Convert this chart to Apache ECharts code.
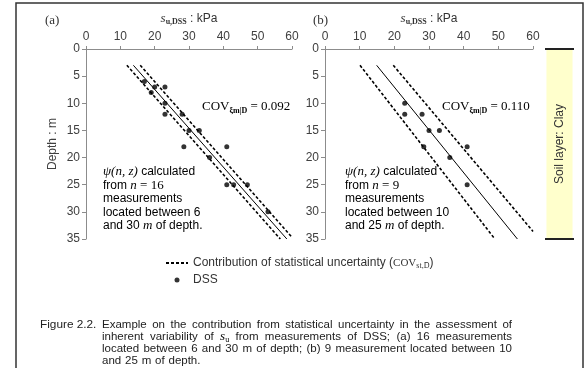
<!DOCTYPE html>
<html>
<head>
<meta charset="utf-8">
<script src="https://cdn.jsdelivr.net/npm/echarts@6/dist/echarts.min.js"></script>
<style>
html, body { margin: 0; padding: 0; background: #fff; }
#chart { width: 586px; height: 368px; }
</style>
</head>
<body>
<div id="chart"></div>
<script>
// DSS measurements, [s_u kPa, depth m]
const dssA = [[17, 6], [20, 7], [23, 7], [19, 8], [23, 10], [23, 12], [28, 12], [30, 15], [33, 15],
	[28.5, 18], [41, 18], [36, 20], [41, 25], [43, 25], [47, 25], [53, 30]];
const dssB = [[23, 10], [23, 12], [28, 12], [30, 15], [33, 15], [28.5, 18], [41, 18], [36, 20], [41, 25]];

// trend line and statistical-uncertainty bounds (end points)
const meanA = [[13.8, 3], [58.5, 35]];
const lowA = [[11.9, 3], [56.6, 35]];
const highA = [[15.8, 3], [60, 34.7]];
const meanB = [[14.9, 3], [55.5, 35]];
const lowB = [[10.1, 3], [49, 35]];
const highB = [[19.7, 3], [60, 33.6]];

const suRange = [0, 60, 10];
const depthRange = [0, 35, 5];
const soilLayers = [{ name: 'Clay', top: 0, bottom: 35 }];
const covValues = ['0.092', '0.110'];
const nMeasurements = [16, 9];
const depthSpans = [[6, 30], [10, 25]];

const BOUND = 'Contribution of statistical uncertainty';
const sans = '"Liberation Sans", Arial, sans-serif';
const serif = '"Liberation Serif", "Times New Roman", serif';
const ink = '#333';

const axisNameRich = {
	s: { fontFamily: serif, fontStyle: 'italic', fontSize: 13, color: ink },
	u: { fontFamily: serif, fontWeight: 'bold', fontSize: 8, color: ink, verticalAlign: 'bottom', padding: [6, 0, 0, 0] },
	k: { fontFamily: sans, fontSize: 12, color: ink },
};

function xAxisFor(i) {
	return {
		gridIndex: i, type: 'value', position: 'top',
		min: suRange[0], max: suRange[1], interval: suRange[2],
		name: '{s|s}{u|u,DSS}{k| : kPa}', nameLocation: 'middle', nameGap: 23,
		nameTextStyle: { rich: axisNameRich },
		axisLine: { show: true, lineStyle: { color: '#8c8c8c' } },
		axisTick: { show: true, length: 3, lineStyle: { color: '#8c8c8c' } },
		axisLabel: { color: '#404040', fontSize: 12, fontFamily: sans, margin: 6 },
		splitLine: { show: false },
	};
}

function yAxisFor(i, name) {
	return {
		gridIndex: i, type: 'value', inverse: true,
		min: depthRange[0], max: depthRange[1], interval: depthRange[2],
		name: name, nameLocation: 'middle', nameGap: 27,
		nameTextStyle: { color: '#404040', fontSize: 12, fontFamily: sans },
		axisLine: { show: true, lineStyle: { color: '#8c8c8c' } },
		axisTick: { show: true, length: 4, lineStyle: { color: '#8c8c8c' } },
		axisLabel: { color: '#404040', fontSize: 12, fontFamily: sans, margin: 6 },
		splitLine: { show: false },
	};
}

function boundSeries(i, data) {
	return {
		name: BOUND, type: 'line', xAxisIndex: i, yAxisIndex: i, data: data,
		symbol: 'none', silent: true,
		itemStyle: { color: '#000' },
		lineStyle: { color: '#000', width: 1.6, type: [3, 2] },
	};
}

function panelSeries(i, dss, mean, low, high) {
	return [
		boundSeries(i, low),
		boundSeries(i, high),
		{
			name: 'trend', type: 'line', xAxisIndex: i, yAxisIndex: i, data: mean,
			symbol: 'none', silent: true, lineStyle: { color: '#000', width: 1 },
		},
		{
			name: 'DSS', type: 'scatter', xAxisIndex: i, yAxisIndex: i, data: dss,
			symbolSize: 5, itemStyle: { color: '#000' },
		},
	];
}

// annotation blocks inside each panel
const richNote = {
	i: { fontFamily: serif, fontStyle: 'italic', fontSize: 13, color: ink },
	t: { fontFamily: sans, fontSize: 12, color: ink },
	c: { fontFamily: serif, fontSize: 13, color: ink },
	b: { fontFamily: serif, fontWeight: 'bold', fontSize: 8, color: ink, verticalAlign: 'bottom', padding: [7, 0, 0, 0] },
};

function noteBlock(x, i) {
	const lines = [
		'{i|ψ(n, z)}{t| calculated}',
		'{t|from }{i|n}{c| = ' + nMeasurements[i] + '}',
		'{t|measurements}',
		'{t|located between ' + depthSpans[i][0] + '}',
		'{t|and ' + depthSpans[i][1] + ' }{i|m}{t| of depth.}',
	];
	return lines.map((txt, k) => ({
		type: 'text', x: x, y: 172 + k * 13.5,
		style: { text: txt, rich: richNote, verticalAlign: 'middle' },
	}));
}

function covText(x, i) {
	return {
		type: 'text', x: x, y: 107,
		style: {
			text: '{c|COV}{b|ξm|D}{c| = ' + covValues[i] + '}',
			rich: richNote, verticalAlign: 'middle',
		},
	};
}

// justified figure caption
const capFont = '11.5px ' + sans;
const measureCtx = document.createElement('canvas').getContext('2d');
function textWidth(str, font) {
	measureCtx.font = font;
	return measureCtx.measureText(str).width;
}
const SU = '\u0000su';
function wordWidth(w) {
	if (w === SU) return textWidth('s', 'italic 13px ' + serif) + textWidth('u', '8px ' + serif);
	return textWidth(w, capFont);
}
function captionLine(words, x0, x1, y, justify) {
	const widths = words.map(wordWidth);
	const total = widths.reduce((a, b) => a + b, 0);
	const gap = justify ? (x1 - x0 - total) / (words.length - 1) : textWidth(' ', capFont) * 1.2;
	let x = x0;
	return words.map((w, k) => {
		const el = {
			type: 'text', x: x, y: y,
			style: w === SU
				? { text: '{i|s}{u|u}', rich: {
					i: { fontFamily: serif, fontStyle: 'italic', fontSize: 13, color: '#222' },
					u: { fontFamily: serif, fontSize: 8, color: '#222', verticalAlign: 'bottom', padding: [6, 0, 0, 0] },
				}, verticalAlign: 'middle' }
				: { text: w, font: capFont, fill: '#222', verticalAlign: 'middle' },
		};
		x += widths[k] + gap;
		return el;
	});
}

const captionLines = [
	'Example on the contribution from statistical uncertainty in the assessment of'.split(' '),
	['inherent', 'variability', 'of', SU, 'from', 'measurements', 'of', 'DSS;', '(a)', '16', 'measurements'],
	'located between 6 and 30 m of depth; (b) 9 measurement located between 10'.split(' '),
	'and 25 m of depth.'.split(' '),
];

let captionEls = [{ type: 'text', x: 40, y: 325, style: { text: 'Figure 2.2.', font: '11.8px ' + sans, fill: '#222', verticalAlign: 'middle' } }];
captionLines.forEach((words, k) => {
	captionEls = captionEls.concat(captionLine(words, 102, 512, 325 + k * 12, k < 3));
});

const chart = echarts.init(document.getElementById('chart'));
chart.setOption({
	animation: false,
	grid: [
		{ left: 86, top: 49, width: 206, height: 190 },
		{ left: 325, top: 49, width: 208, height: 190 },
		{ left: 545, top: 49, width: 29, height: 190 },
	],
	xAxis: [
		xAxisFor(0),
		xAxisFor(1),
		{ gridIndex: 2, type: 'category', data: soilLayers.map(d => d.name), show: false },
	],
	yAxis: [
		yAxisFor(0, 'Depth : m'),
		yAxisFor(1, ''),
		{ gridIndex: 2, type: 'value', inverse: true, min: depthRange[0], max: depthRange[1], show: false },
	],
	legend: {
		orient: 'vertical', left: 160, top: 252, itemGap: 4,
		itemWidth: 22, itemHeight: 5,
		data: [
			{ name: BOUND, itemStyle: { color: 'transparent', borderColor: 'transparent', borderWidth: 0 } },
			{ name: 'DSS', icon: 'circle' },
		],
		selectedMode: false,
		textStyle: {
			fontFamily: sans, fontSize: 12, color: ink,
			rich: {
				t: { fontFamily: sans, fontSize: 12, color: ink },
				c: { fontFamily: serif, fontSize: 11, color: ink },
				s: { fontFamily: serif, fontSize: 8, color: ink, verticalAlign: 'bottom', padding: [6, 0, 0, 0] },
			},
		},
		formatter: name => name === BOUND ? '{t|' + BOUND + ' (}{c|COV}{s|st,D\u0304}{t|)}' : name,
	},
	series: [
		...panelSeries(0, dssA, meanA, lowA, highA),
		...panelSeries(1, dssB, meanB, lowB, highB),
		{
			name: 'soil', type: 'bar', xAxisIndex: 2, yAxisIndex: 2, barWidth: '90%', silent: true,
			data: soilLayers.map(d => d.bottom - d.top),
			itemStyle: { color: '#ffffcc' },
			label: {
				show: true, position: 'inside', rotate: 90,
				formatter: 'Soil layer: ' + soilLayers[0].name,
				fontFamily: sans, fontSize: 12, color: ink,
			},
			markLine: {
				silent: true, symbol: 'none', label: { show: false },
				lineStyle: { color: '#222', width: 2, type: 'solid' },
				data: [{ yAxis: soilLayers[0].top }, { yAxis: soilLayers[0].bottom }],
			},
		},
	],
	graphic: [
		{ type: 'rect', shape: { x: 16, y: 3, width: 567, height: 380 }, style: { fill: 'none', stroke: '#333', lineWidth: 1.5 }, z: -1 },
		{ type: 'text', x: 45, y: 21, style: { text: '(a)', font: '13px ' + serif, fill: ink, verticalAlign: 'middle' } },
		{ type: 'text', x: 313, y: 21, style: { text: '(b)', font: '13px ' + serif, fill: ink, verticalAlign: 'middle' } },
		covText(202, 0),
		covText(442, 1),
		...noteBlock(103, 0),
		...noteBlock(345, 1),
		...captionEls,
	],
});
</script>
</body>
</html>
